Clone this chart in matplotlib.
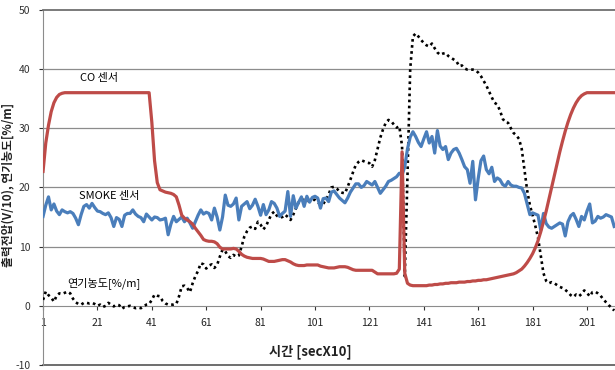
import numpy as np
import matplotlib
matplotlib.use("Agg")
import matplotlib.pyplot as plt

plt.rcParams['font.family'] = ['Noto Sans CJK KR', 'DejaVu Sans']

# CO sensor output (V/10), one value per time step 1..211
co_sensor = [
    22.7, 27.5, 30.5, 32.8, 34.3, 35.2, 35.7, 35.9, 36.0, 36.0,
    36.0, 36.0, 36.0, 36.0, 36.0, 36.0, 36.0, 36.0, 36.0, 36.0,
    36.0, 36.0, 36.0, 36.0, 36.0, 36.0, 36.0, 36.0, 36.0, 36.0,
    36.0, 36.0, 36.0, 36.0, 36.0, 36.0, 36.0, 36.0, 36.0, 36.0,
    31.0, 24.5, 20.8, 19.6, 19.4, 19.2, 19.1, 19.0, 18.8, 18.4,
    17.0, 15.3, 14.8, 14.5, 14.2, 13.8, 13.1, 12.5, 11.9, 11.2,
    11.0, 10.9, 10.9, 10.8, 10.5, 9.9, 9.6, 9.6, 9.6, 9.6,
    9.7, 9.6, 9.2, 8.7, 8.4, 8.2, 8.1, 8.0, 8.0, 8.0,
    8.0, 7.9, 7.7, 7.5, 7.5, 7.5, 7.6, 7.7, 7.8, 7.8,
    7.6, 7.4, 7.1, 6.9, 6.8, 6.8, 6.8, 6.9, 6.9, 6.9,
    6.9, 6.9, 6.7, 6.6, 6.5, 6.4, 6.4, 6.4, 6.5, 6.6,
    6.6, 6.6, 6.5, 6.3, 6.1, 6.0, 6.0, 6.0, 6.0, 6.0,
    6.0, 6.0, 5.7, 5.4, 5.4, 5.4, 5.4, 5.4, 5.4, 5.4,
    5.5, 6.2, 26.0, 5.5, 3.8, 3.5, 3.4, 3.4, 3.4, 3.4,
    3.4, 3.4, 3.5, 3.5, 3.6, 3.6, 3.7, 3.7, 3.8, 3.8,
    3.9, 3.9, 3.9, 4.0, 4.0, 4.0, 4.1, 4.1, 4.2, 4.2,
    4.3, 4.3, 4.4, 4.4, 4.5, 4.6, 4.7, 4.8, 4.9, 5.0,
    5.1, 5.2, 5.3, 5.4, 5.6, 5.9, 6.2, 6.7, 7.3, 8.0,
    8.8, 9.8, 11.0, 12.5, 14.2, 16.0, 18.0, 20.0, 22.0, 24.0,
    26.0, 27.8, 29.5, 31.0, 32.3, 33.4, 34.3, 35.0, 35.5, 35.8,
    36.0, 36.0, 36.0, 36.0, 36.0, 36.0, 36.0, 36.0, 36.0, 36.0,
    36.0,
]

# SMOKE sensor output (V/10)
smoke_sensor = [
    15.1, 17.0, 18.4, 16.2, 17.2, 16.0, 15.4, 16.2, 15.9, 15.7,
    15.9, 15.6, 14.8, 13.7, 15.4, 16.8, 17.1, 16.5, 17.3, 16.6,
    16.0, 15.9, 15.6, 15.4, 15.7, 14.9, 13.4, 14.9, 14.6, 13.4,
    15.3, 15.6, 15.6, 16.2, 15.5, 15.1, 14.9, 14.2, 15.5, 15.0,
    14.5, 15.0, 14.9, 14.5, 14.6, 14.8, 12.0, 13.8, 15.1, 14.2,
    14.6, 15.0, 14.2, 14.8, 14.0, 13.1, 14.2, 15.3, 16.2, 15.5,
    15.8, 15.6, 14.5, 16.5, 15.0, 12.8, 15.0, 18.7, 17.0, 16.8,
    17.2, 18.2, 14.5, 16.8, 17.2, 17.6, 16.4, 17.0, 18.0, 16.8,
    15.3, 17.1, 15.4, 16.2, 17.6, 17.3, 16.5, 15.1, 15.6, 16.0,
    19.3, 15.1, 18.6, 16.5, 17.5, 18.4, 16.8, 18.5, 17.5, 18.3,
    18.5, 18.2, 16.5, 18.1, 18.2, 17.6, 19.2, 19.4, 18.8, 18.2,
    17.8, 17.4, 18.2, 19.2, 19.9, 20.6, 20.6, 20.0, 20.3, 21.0,
    20.7, 20.4, 21.0, 20.0, 19.0, 19.6, 20.2, 21.0, 21.2, 21.5,
    21.8, 22.4, 22.1, 23.5, 26.5, 28.5, 29.4, 28.6, 27.6, 26.9,
    28.2, 29.4, 27.5, 28.6, 25.8, 29.6, 27.0, 26.4, 26.9, 24.7,
    25.8, 26.4, 26.6, 25.8, 24.7, 23.5, 23.0, 20.7, 24.4, 17.9,
    21.5, 24.5, 25.3, 23.0, 22.3, 23.4, 21.0, 21.6, 21.3, 20.5,
    20.2, 21.0, 20.4, 20.2, 20.2, 20.0, 19.9, 19.0, 17.2, 15.4,
    15.7, 15.5, 15.3, 12.8, 15.6, 13.9, 13.3, 13.1, 13.4, 13.7,
    14.0, 13.8, 11.8, 14.2, 15.2, 15.6, 14.6, 13.4, 15.1, 14.5,
    16.0, 17.2, 14.0, 14.3, 15.1, 14.8, 15.0, 15.4, 15.2, 15.0,
    13.4,
]

# smoke density [%/m]
smoke_density = [
    1.0, 2.4, 1.8, 1.4, 0.7, 1.7, 2.1, 2.0, 2.2, 2.4,
    2.1, 1.2, 0.6, 0.3, 0.2, 0.5, 0.5, 0.4, 0.5, 0.3,
    0.0, 0.2, -0.2, 0.0, 0.5, 0.2, -0.1, 0.2, 0.1, -0.5,
    -0.2, -0.1, 0.0, -0.2, -0.4, -0.3, -0.4, -0.1, 0.2, 0.3,
    1.0, 1.9, 1.7, 1.6, 0.8, 0.4, 0.2, 0.2, 0.2, 0.3,
    1.6, 3.3, 3.4, 3.0, 2.3, 3.8, 5.0, 5.9, 7.2, 7.0,
    6.3, 6.8, 7.0, 6.4, 6.9, 8.3, 9.5, 9.2, 8.4, 8.1,
    8.6, 8.3, 8.5, 10.0, 11.7, 12.6, 13.2, 13.4, 13.0, 14.2,
    13.7, 12.9, 13.5, 14.5, 15.5, 15.9, 15.2, 14.9, 15.0, 15.4,
    15.0, 14.5, 15.4, 16.5, 17.5, 17.9, 17.9, 17.8, 17.6, 17.9,
    17.9, 17.5, 17.1, 17.2, 17.9, 18.8, 20.0, 20.1, 19.8, 19.3,
    19.1, 19.0, 20.1, 21.3, 22.6, 23.8, 24.3, 24.6, 24.4, 24.2,
    24.1, 23.5, 24.6, 26.5, 28.4, 29.8, 30.9, 31.4, 31.2, 30.6,
    30.1, 30.3, 27.0, 5.0, 22.0, 40.0, 45.5, 46.0, 45.5, 44.9,
    44.4, 44.0, 43.8, 44.3, 43.5, 42.8, 42.4, 42.6, 42.7, 42.2,
    41.9, 41.6, 41.3, 40.5, 40.6, 40.1, 39.9, 39.9, 39.9, 39.8,
    39.4, 38.8, 38.0, 37.2, 36.2, 35.2, 34.3, 34.0, 33.0, 31.6,
    31.0, 30.9, 30.0, 29.2, 28.8, 28.2, 26.5, 23.0, 19.5, 17.0,
    15.3, 13.5, 11.5, 8.5, 5.5, 4.2, 3.8, 4.0, 3.8, 3.5,
    3.2, 3.0, 2.7, 2.3, 1.8, 1.5, 1.9, 1.6, 2.0, 2.6,
    2.2, 1.6, 2.3, 2.4, 2.1, 1.7, 1.1, 0.6, 0.1, -0.3,
    -0.8,
]

x_ticks = [1, 21, 41, 61, 81, 101, 121, 141, 161, 181, 201]
y_ticks = [-10, 0, 10, 20, 30, 40, 50]

t = np.arange(1, len(co_sensor) + 1)

fig = plt.figure(figsize=(6.15, 3.7), dpi=100)
ax = fig.add_axes([0.070, 0.0135, 0.93, 0.96])

grid_c = '#8c8c8c'
for yv in [10, 20, 30, 40]:
    ax.axhline(yv, color=grid_c, lw=0.9, zorder=0)
ax.axhline(-10, color='#555555', lw=1.2, zorder=0, clip_on=False)

ax.plot(t, smoke_density, color='black', lw=1.9, linestyle=(0, (1, 1.3)), zorder=3)
ax.plot(t, smoke_sensor, color='#4a7ebb', lw=2.3, zorder=4)
ax.plot(t, co_sensor, color='#be4b48', lw=2.3, zorder=5)

ax.set_xlim(1, 211.3)
ax.set_ylim(-10, 50)

ax.spines['bottom'].set_position(('data', 0))
ax.spines['bottom'].set_color(grid_c)
ax.spines['left'].set_color(grid_c)
ax.spines['top'].set_color('#707070')
ax.spines['top'].set_linewidth(1.3)
ax.spines['right'].set_visible(False)

ax.set_xticks(x_ticks)
ax.set_xticklabels([str(v) for v in x_ticks])
ax.set_yticks(y_ticks)
ax.set_yticklabels([str(v) for v in y_ticks])
ax.tick_params(axis='both', labelsize=7.5, colors='#333333', length=3, width=0.8)
ax.tick_params(axis='x', pad=6)
ax.tick_params(axis='y', pad=6)
for lab in ax.get_xticklabels():
    lab.set_color('#222222')

ax.text(21.5, 38.5, 'CO 센서', fontsize=8, ha='center', va='center')
ax.text(25.5, 18.6, 'SMOKE 센서', fontsize=8, ha='center', va='center')
ax.text(23.5, 3.9, '연기농도[%/m]', fontsize=8, ha='center', va='center')

fig.text(310 / 615, 1 - 352 / 370, '시간 [secX10]', fontsize=9.5,
         fontweight='bold', ha='center', va='center', color='#222222')
fig.text(8 / 615, 1 - 185 / 370, '출력전압(V/10), 연기농도[%/m]', fontsize=8.5,
         fontweight='bold', ha='center', va='center', rotation=90, color='#222222')

fig.savefig('out.png', dpi=100)
